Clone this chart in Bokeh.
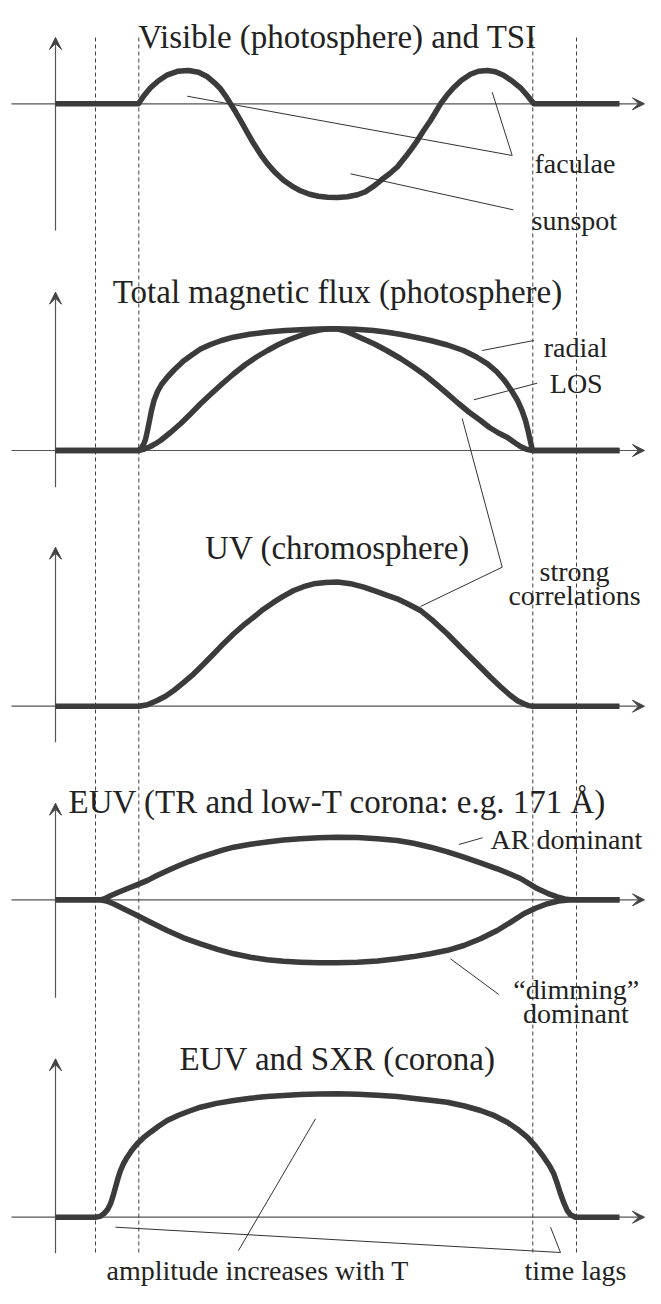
from bokeh.plotting import figure
from bokeh.models import Range1d, Label, Arrow, VeeHead
from bokeh.embed import file_html
from bokeh.resources import INLINE

# ---------------- data ----------------
# time t (arbitrary units), amplitude v (arbitrary units, 0 = quiet level)
vis_t = [0, 8.3, 8.8, 9.5, 10.3, 11.2, 12.2, 13.3, 14.3, 15.2, 15.9, 16.5, 17.0, 17.5, 18.0, 18.5,
         19.2, 19.8, 20.5, 21.2, 22.0, 22.8, 23.6, 24.5, 25.4, 26.3, 27.2, 28.2, 29.2, 30.2, 31.0,
         31.8, 32.6, 33.4, 34.2, 35.0, 35.6, 36.2, 36.8, 37.5, 38.0, 38.5, 39.1, 39.8, 40.6, 41.5,
         42.3, 43.2, 44.0, 44.8, 45.7, 46.5, 47.2, 47.83, 56.4]
vis_v = [0, 0, 0.75, 1.6, 2.3, 2.9, 3.25, 3.33, 3.15, 2.7, 2.1, 1.5, 0.8, 0.0, -0.8, -1.65,
         -2.9, -3.95, -5.05, -6.0, -6.9, -7.65, -8.2, -8.7, -9.05, -9.25, -9.34, -9.36, -9.3, -9.1, -8.8,
         -8.25, -7.6, -7.0, -6.3, -5.3, -4.5, -3.65, -2.7, -1.67, -0.85, 0, 0.8, 1.6, 2.35, 2.95,
         3.25, 3.33, 3.2, 2.85, 2.25, 1.6, 0.8, 0, 0]

flux_radial_t = [0, 8.3, 8.55, 8.8, 9.0, 9.2, 9.4, 9.6, 9.85, 10.2, 10.6, 11.2, 11.9, 12.8, 13.7,
                 14.5, 15.5, 16.6, 17.8, 19.4, 21.2, 23.0, 24.5, 26.3, 28.2, 30.0, 31.8, 33.2, 34.6,
                 36.1, 37.5, 39.2, 40.8, 42.1, 43.2, 44.1, 44.9, 45.6, 46.2, 46.65, 47.0, 47.25,
                 47.45, 47.6, 47.7, 56.4]
flux_radial_v = [0, 0, 0.2, 0.6, 1.1, 2.0, 3.0, 4.0, 5.0, 5.9, 6.6, 7.35, 8.1, 8.95, 9.6,
                 10.15, 10.6, 11.0, 11.33, 11.62, 11.85, 12.0, 12.08, 12.15, 12.17, 12.12, 12.0, 11.82, 11.6,
                 11.3, 11.0, 10.55, 10.0, 9.35, 8.67, 7.9, 7.0, 6.0, 5.0, 4.0, 3.0, 2.0,
                 1.1, 0.45, 0, 0]

flux_los_t = [0, 8.3, 8.9, 9.5, 10.0, 10.5, 11.5, 12.5, 13.5, 14.5, 15.6, 16.7, 17.8, 19.0, 20.1,
              21.2, 22.3, 23.4, 24.5, 25.5, 26.5, 27.4, 28.2, 29.0, 29.8, 30.9, 32.0, 33.2, 34.5,
              35.8, 37.0, 38.1, 39.2, 40.3, 41.4, 42.5, 43.4, 44.3, 45.2, 45.9, 46.5, 47.1, 47.7, 56.4]
flux_los_v = [0, 0, 0.15, 0.4, 0.68, 1.0, 1.8, 2.67, 3.65, 4.67, 5.7, 6.7, 7.65, 8.6, 9.35,
              10.0, 10.6, 11.1, 11.5, 11.85, 12.07, 12.17, 12.17, 11.95, 11.6, 11.1, 10.6, 9.95, 9.2,
              8.35, 7.5, 6.6, 5.67, 4.7, 3.8, 3.0, 2.3, 1.75, 1.3, 0.8, 0.4, 0.12, 0, 0]

uv_t = [0, 8.33, 9.2, 10.17, 11.0, 11.83, 12.8, 13.83, 14.8, 15.83, 16.8, 17.83, 18.8, 19.83, 20.8,
        21.83, 22.8, 23.83, 24.8, 25.83, 27.0, 28.2, 29.5, 30.83, 32.0, 33.1, 34.17, 35.3, 36.5,
        37.8, 39.17, 40.3, 41.5, 42.5, 43.5, 44.5, 45.5, 46.2, 46.83, 47.3, 47.73, 56.4]
uv_v = [0, 0, 0.15, 0.57, 1.0, 1.57, 2.35, 3.24, 4.2, 5.24, 6.25, 7.24, 8.1, 8.9, 9.7,
        10.4, 11.0, 11.57, 11.95, 12.24, 12.38, 12.42, 12.25, 11.9, 11.5, 11.1, 10.74, 10.2, 9.57,
        8.5, 7.24, 6.1, 4.9, 3.9, 2.9, 1.95, 1.07, 0.55, 0.24, 0.06, 0, 0]

euv_ar_t = [0, 4.5, 5.0, 5.5, 6.3, 7.15, 8.2, 9.26, 10.2, 11.17, 12.3, 13.4, 14.5, 15.6, 16.7,
            17.83, 19.5, 21.17, 22.8, 24.5, 26.3, 28.2, 30.2, 32.2, 34.17, 35.8, 37.5, 39.2,
            40.83, 42.5, 44.17, 45.4, 46.5, 47.4, 48.17, 49.2, 50.17, 50.9, 51.5, 56.4]
euv_ar_v = [0, 0, 0.15, 0.4, 0.75, 1.1, 1.52, 1.97, 2.45, 2.9, 3.4, 3.85, 4.26, 4.62, 4.97,
            5.26, 5.55, 5.78, 5.97, 6.1, 6.2, 6.26, 6.22, 6.1, 5.93, 5.65, 5.26, 4.8,
            4.26, 3.7, 3.1, 2.6, 2.13, 1.6, 1.12, 0.65, 0.3, 0.08, 0, 0]

euv_dim_t = [0, 4.5, 5.2, 6.0, 6.9, 7.83, 9.5, 11.17, 12.8, 14.5, 16.2, 17.83, 19.5, 21.17, 22.8,
             24.5, 26.3, 28.2, 30.2, 32.2, 34.17, 35.8, 37.5, 39.2, 40.83, 42.5, 44.17, 45.5,
             46.83, 48.0, 49.17, 50.3, 51.5, 56.4]
euv_dim_v = [0, 0, -0.15, -0.5, -0.95, -1.4, -2.25, -3.07, -3.8, -4.4, -4.95, -5.4, -5.75, -6.0, -6.15,
             -6.24, -6.3, -6.3, -6.25, -6.12, -5.9, -5.68, -5.4, -5.05, -4.57, -3.9, -3.07, -2.25,
             -1.4, -0.85, -0.4, -0.12, 0, 0]

corona_t = [0, 4.0, 4.45, 4.83, 5.2, 5.5, 5.75, 6.0, 6.25, 6.5, 6.8, 7.17, 7.6, 8.17, 8.8, 9.5,
            10.3, 11.17, 12.3, 13.4, 14.5, 16.1, 17.83, 19.5, 21.17, 22.8, 24.5, 26.3, 28.2, 30.2,
            32.2, 34.17, 35.9, 37.5, 39.17, 40.9, 42.5, 43.9, 45.17, 46.2, 47.17, 48.0, 48.83,
            49.4, 49.83, 50.2, 50.5, 50.85, 51.17, 51.5, 52.0, 56.4]
corona_v = [0, 0, 0.08, 0.34, 0.75, 1.34, 2.1, 3.0, 3.9, 4.67, 5.35, 6.0, 6.65, 7.34, 7.95, 8.5,
            9.1, 9.67, 10.2, 10.62, 11.0, 11.38, 11.67, 11.9, 12.07, 12.18, 12.27, 12.32, 12.34, 12.3,
            12.2, 12.07, 11.88, 11.7, 11.5, 11.12, 10.67, 10.15, 9.5, 8.8, 8.0, 7.1, 6.0,
            5.15, 4.34, 3.3, 2.34, 1.4, 0.67, 0.25, 0, 0]

# characteristic times (dashed markers)
marker_times = [4.0, 8.33, 47.73, 52.1]

panel_titles = ["Visible (photosphere) and TSI",
                "Total magnetic flux (photosphere)",
                "UV (chromosphere)",
                "EUV (TR and low-T corona: e.g. 171 \u00c5)",
                "EUV and SXR (corona)"]

# annotation texts: (panel, t, v, text, align, masked)
annotations = [
    (0, 47.9, -5.97, "faculae", "left", True),
    (0, 47.6, -11.67, "sunspot", "left", True),
    (1, 48.83, 10.33, "radial", "left", True),
    (1, 49.43, 6.67, "LOS", "left", True),
    (2, 51.9, 13.5, "strong", "center", True),
    (2, 51.9, 11.07, "correlations", "center", True),
    (3, 43.5, 6.0, "AR dominant", "left", True),
    (3, 52.08, -9.0, "\u201cdimming\u201d", "center", True),
    (3, 52.03, -11.4, "dominant", "center", True),
    (4, 5.1, -5.33, "amplitude increases with T", "left", False),
    (4, 46.9, -5.33, "time lags", "left", False),
]

# leader lines: (panel, t-list, v-list)
leaders = [
    (0, [13.17, 45.67, 43.67], [0.76, -5.17, 1.16]),
    (0, [29.5, 45.77], [-7.0, -10.6]),
    (1, [42.67, 47.83], [10.0, 11.0]),
    (1, [41.83, 48.17], [5.07, 6.73]),
    (2, [40.67, 44.67, 36.5], [28.77, 13.9, 9.97]),
    (3, [40.33, 42.7], [5.53, 6.2]),
    (3, [39.5, 44.33], [-5.9, -9.47]),
    (4, [26.0, 18.3], [9.84, -3.33]),
    (4, [6.0, 50.5, 49.5], [-1.0, -3.53, -1.0]),
]

# ---------------- layout / style ----------------
panel_base = [118.47, 83.8, 58.23, 38.87, 7.13]        # vertical position of each panel's zero line
yaxis_ext = [(-12.67, 6.63), (-3.67, 15.83), (-3.6, 15.9), (-9.8, 9.66), (-3.6, 15.84)]
title_dy = [6.73, 15.83, 15.84, 9.76, 15.84]
title_masked = [False, True, True, True, True]
title_t = 28.2
xaxis_span = (-4.4, 58.9)
dash_span = (3.6, 125.3)

CURVE = "#3b3b3b"
THIN = "#555555"
TEXT = "#222222"
FONT = "Liberation Serif"

p = figure(width=645, height=1288, x_range=Range1d(-5.5, 59.0), y_range=Range1d(0, 128.8),
           output_backend="svg", toolbar_location=None, x_axis_type=None, y_axis_type=None,
           min_border=0, outline_line_color=None,
           background_fill_color="white", border_fill_color="white")
p.grid.visible = False

# dashed time markers
p.segment(x0=marker_times, y0=[dash_span[0]] * 4, x1=marker_times, y1=[dash_span[1]] * 4,
          line_color="#444444", line_width=1, line_dash="4 3")

# axes with arrow heads
for b, (lo, hi) in zip(panel_base, yaxis_ext):
    p.add_layout(Arrow(x_start=0, y_start=b + lo, x_end=0, y_end=b + hi,
                       line_color=THIN, line_width=1.2, level="underlay",
                       end=VeeHead(size=12, fill_color="#444444", line_color="#444444", line_width=1)))
    p.add_layout(Arrow(x_start=xaxis_span[0], y_start=b, x_end=xaxis_span[1], y_end=b,
                       line_color=THIN, line_width=1.2, level="underlay",
                       end=VeeHead(size=12, fill_color="#444444", line_color="#444444", line_width=1)))

# curves
curves = [(0, vis_t, vis_v), (1, flux_radial_t, flux_radial_v), (1, flux_los_t, flux_los_v),
          (2, uv_t, uv_v), (3, euv_ar_t, euv_ar_v), (3, euv_dim_t, euv_dim_v),
          (4, corona_t, corona_v)]
for k, t, v in curves:
    b = panel_base[k]
    p.line(t, [b + vv for vv in v], line_color=CURVE, line_width=5.5,
           line_join="round", line_cap="butt")

# leader lines
p.multi_line(xs=[ts for _, ts, _ in leaders],
             ys=[[panel_base[k] + vv for vv in vs] for k, _, vs in leaders],
             line_color="#333333", line_width=1)

# all texts: (x, y, text, size, align, masked)
texts = [(title_t, panel_base[k] + title_dy[k], txt, "33px", "center", title_masked[k])
         for k, txt in enumerate(panel_titles)]
texts += [(t, panel_base[k] + v, txt, "28px", align, masked)
          for k, t, v, txt, align, masked in annotations]

# first pass: white masks behind texts (hide dashed lines), second pass: the texts themselves
for x, y, txt, size, align, masked in texts:
    if masked:
        p.add_layout(Label(x=x, y=y, text=txt, text_font=FONT, text_font_size=size,
                           text_alpha=0.0, text_align=align, text_baseline="alphabetic",
                           background_fill_color="white", padding=2))
for x, y, txt, size, align, masked in texts:
    p.add_layout(Label(x=x, y=y, text=txt, text_font=FONT, text_font_size=size,
                       text_color=TEXT, text_align=align, text_baseline="alphabetic"))

open("out.html", "w").write(file_html(p, INLINE))
